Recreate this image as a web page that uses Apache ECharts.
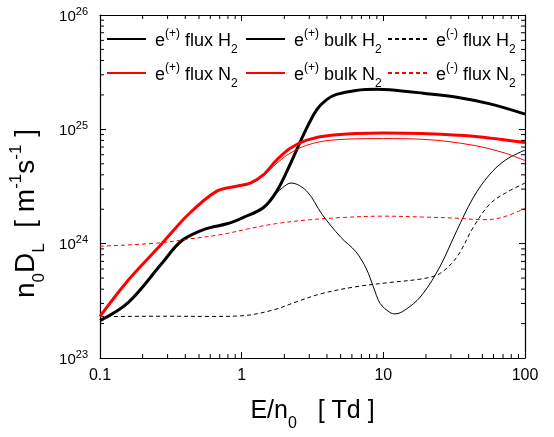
<!DOCTYPE html>
<html><head><meta charset="utf-8">
<script src="https://cdn.jsdelivr.net/npm/echarts@6/dist/echarts.min.js"></script>
<style>html,body{margin:0;padding:0;background:#fff}#c{width:554px;height:437px}</style>
</head><body><div id="c"></div>
<script>
// ---- data (E/n0 in Td, n0DL in m^-1 s^-1) ----
const fluxH2_E = [0.1,0.158,0.272,0.377,0.55,0.8,1.03,1.42,1.77,2.19,2.72,3.38,3.98,4.67,6.4,9,11.1,19.1,33,56.6,100];
const fluxH2_V = [2.12e23,3.05e23,6.67e23,1.06e24,1.34e24,1.50e24,1.70e24,2.06e24,2.88e24,4.89e24,8.87e24,1.48e25,1.82e25,2.02e25,2.19e25,2.24e25,2.22e25,2.07e25,1.91e25,1.67e25,1.36e25];

const bulkH2_E = [0.1,0.158,0.272,0.377,0.55,0.8,1.03,1.42,1.67,1.95,2.23,2.88,3.7,5.0,6.4,7.6,8.5,9.5,11.1,12.1,15.4,19.1,25,33,43,56,73,100];
const bulkH2_V = [2.12e23,3.05e23,6.67e23,1.06e24,1.34e24,1.50e24,1.70e24,2.06e24,2.6e24,3.1e24,3.39e24,2.88e24,1.80e24,1.14e24,8.5e23,6.0e23,4.2e23,3.0e23,2.51e23,2.43e23,2.82e23,3.67e23,6.24e23,1.30e24,2.51e24,4.0e24,5.4e24,6.58e24];

const eminusH2_E = [0.1,0.3,0.6,1.0,1.67,2.45,3.7,6.4,11,19,25,33,43,56,73,100];
const eminusH2_V = [2.3e23,2.32e23,2.31e23,2.34e23,2.63e23,3.11e23,3.67e23,4.20e23,4.57e23,4.94e23,5.47e23,7.62e23,1.38e24,2.20e24,2.78e24,3.39e24];

const fluxN2_E = [0.1,0.158,0.272,0.42,0.667,0.92,1.15,1.42,1.77,2.19,2.88,4.27,10,19,43,100];
const fluxN2_V = [2.31e23,4.79e23,9.93e23,1.80e24,2.88e24,3.18e24,3.39e24,4.00e24,5.40e24,6.81e24,8.04e24,8.87e24,9.29e24,9.18e24,8.71e24,7.67e24];

const bulkN2_E = [0.1,0.158,0.272,0.42,0.667,0.92,1.15,1.42,1.77,2.19,2.88,4.27,10,19,43,73,100];
const bulkN2_V = [2.31e23,4.79e23,9.93e23,1.80e24,2.88e24,3.18e24,3.36e24,3.92e24,5.05e24,6.17e24,7.26e24,8.04e24,8.30e24,8.18e24,7.26e24,6.17e24,5.33e24];

const eminusN2_E = [0.1,0.25,0.43,0.74,1.15,1.77,2.88,5,10,19,33,50,68,100];
const eminusN2_V = [9.5e23,1.01e24,1.10e24,1.21e24,1.36e24,1.50e24,1.61e24,1.69e24,1.74e24,1.71e24,1.67e24,1.62e24,1.69e24,2.03e24];

const xTickLabels = ['0.1','1','10','100'];
const xMinor = [0.2,0.3,0.4,0.5,0.6,0.7,0.8,0.9,2,3,4,5,6,7,8,9,20,30,40,50,60,70,80,90];
const yMinor = [];
[23,24,25].forEach(e=>{for(let m=2;m<=9;m++) yMinor.push(m*Math.pow(10,e));});

const FONT = 'Liberation Sans, Arial, sans-serif';
const zip = (a,b)=>a.map((v,i)=>[v,b[i]]);

const chart = echarts.init(document.getElementById('c'));

const supRich = {
  b:{fontSize:18,fontFamily:FONT,color:'#000',lineHeight:22,verticalAlign:'bottom'},
  sup:{fontSize:12,fontFamily:FONT,color:'#000',lineHeight:22,verticalAlign:'top'},
  sub:{fontSize:12,fontFamily:FONT,color:'#000',lineHeight:14,verticalAlign:'bottom',padding:[0,0,-6,0]}
};

function mkSeries(name, E, V, color, width, dashed){
  return {name, type:'line', data:zip(E,V), symbol:'none', showSymbol:false, smooth:0.35,
    lineStyle:{color, width, type: dashed?[4,3]:'solid'}, itemStyle:{color}, z:3, animation:false};
}

const names = [
  {n:'fH2', t:'{b|e}{sup|(+)}{b| flux H}{sub|2}'},
  {n:'bH2', t:'{b|e}{sup|(+)}{b| bulk H}{sub|2}'},
  {n:'mH2', t:'{b|e}{sup|(-)}{b| flux H}{sub|2}'},
  {n:'fN2', t:'{b|e}{sup|(+)}{b| flux N}{sub|2}'},
  {n:'bN2', t:'{b|e}{sup|(+)}{b| bulk N}{sub|2}'},
  {n:'mN2', t:'{b|e}{sup|(-)}{b| flux N}{sub|2}'}
];
const legendPos = [[106,28],[245,28],[387,28],[106,62],[245,62],[387,62]];
const legends = names.map((o,i)=>({
  data:[o.n], left:legendPos[i][0], top:legendPos[i][1], itemWidth:39, itemHeight:14,
  padding:0, selectedMode:false, itemStyle:{opacity:0, borderWidth:0},
  formatter:()=>o.t,
  textStyle:{rich:supRich, padding:[0,0,0,4]}
}));

const tickLen = 6, minorLen = 4;
function axisCommon(){
  return {type:'log', logBase:10, axisLine:{show:true,onZero:false,lineStyle:{color:'#000',width:1.2}},
    axisTick:{show:true,inside:true,length:tickLen,lineStyle:{color:'#000',width:1}},
    splitLine:{show:false}, minorTick:{show:false}, minorSplitLine:{show:false}};
}

const option = {
  animation:false,
  backgroundColor:'#fff',
  grid:{left:100,right:29,top:15,bottom:75},
  legend: legends,
  xAxis:[
    Object.assign(axisCommon(),{min:0.1,max:100,position:'bottom',
      axisLabel:{margin:10,fontSize:16,fontFamily:FONT,color:'#000',
        formatter:v=>xTickLabels[Math.round(Math.log10(v))+1]},
      name:'{a|E/n}{s|0}{a|   [ Td ]}', nameLocation:'middle', nameGap:38,
      nameTextStyle:{rich:{a:{fontSize:25,fontFamily:FONT,color:'#000',lineHeight:28,verticalAlign:'bottom'},
                           s:{fontSize:16,fontFamily:FONT,color:'#000',lineHeight:28,verticalAlign:'bottom',padding:[0,0,-8,0]}}}}),
    Object.assign(axisCommon(),{min:0.1,max:100,position:'top',axisLabel:{show:false}})
  ],
  yAxis:[
    Object.assign(axisCommon(),{min:1e23,max:1e26,position:'left',
      axisLabel:{margin:12,fontFamily:FONT,color:'#000',
        formatter:v=>'{b|10}{s|'+Math.round(Math.log10(v))+'}',
        rich:{b:{fontSize:15,fontFamily:FONT,color:'#000',lineHeight:18,verticalAlign:'bottom'},
              s:{fontSize:11,fontFamily:FONT,color:'#000',lineHeight:18,verticalAlign:'top',padding:[0,0,6,0]}}},
      name:'{a|n}{s|0}{a|D}{s|L}{a|  [ m}{p|-1}{a|s}{p|-1}{a| ]}', nameLocation:'middle', nameGap:54,
      nameTextStyle:{padding:[0,54,0,0],
                     rich:{a:{fontSize:28,fontFamily:FONT,color:'#000',lineHeight:32,verticalAlign:'bottom'},
                           s:{fontSize:17,fontFamily:FONT,color:'#000',lineHeight:32,verticalAlign:'bottom',padding:[0,0,-8,0]},
                           p:{fontSize:17,fontFamily:FONT,color:'#000',lineHeight:32,verticalAlign:'top'}}}}),
    Object.assign(axisCommon(),{min:1e23,max:1e26,position:'right',axisLabel:{show:false}})
  ],
  series:[
    mkSeries('fH2', fluxH2_E, fluxH2_V, '#000000', 3, false),
    mkSeries('bH2', bulkH2_E, bulkH2_V, '#000000', 1, false),
    mkSeries('mH2', eminusH2_E, eminusH2_V, '#000000', 1, true),
    mkSeries('fN2', fluxN2_E, fluxN2_V, '#ff0000', 3, false),
    mkSeries('bN2', bulkN2_E, bulkN2_V, '#ff0000', 1, false),
    mkSeries('mN2', eminusN2_E, eminusN2_V, '#ff0000', 1, true),
    {type:'custom', name:'xminor', silent:true, clip:false, z:5,
      data:xMinor.map(v=>[v,1e23]),
      renderItem:(p,api)=>{
        const v=api.value(0); const b=api.coord([v,1e23]); const t=api.coord([v,1e26]);
        const st={stroke:'#000',lineWidth:1};
        return {type:'group',children:[
          {type:'line',shape:{x1:b[0],y1:b[1],x2:b[0],y2:b[1]-minorLen},style:st},
          {type:'line',shape:{x1:t[0],y1:t[1],x2:t[0],y2:t[1]+minorLen},style:st}]};
      }},
    {type:'custom', name:'yminor', silent:true, clip:false, z:5,
      data:yMinor.map(v=>[0.1,v]),
      renderItem:(p,api)=>{
        const v=api.value(1); const l=api.coord([0.1,v]); const r=api.coord([100,v]);
        const st={stroke:'#000',lineWidth:1};
        return {type:'group',children:[
          {type:'line',shape:{x1:l[0],y1:l[1],x2:l[0]+minorLen,y2:l[1]},style:st},
          {type:'line',shape:{x1:r[0],y1:r[1],x2:r[0]-minorLen,y2:r[1]},style:st}]};
      }}
  ]
};
chart.setOption(option);
</script></body></html>
